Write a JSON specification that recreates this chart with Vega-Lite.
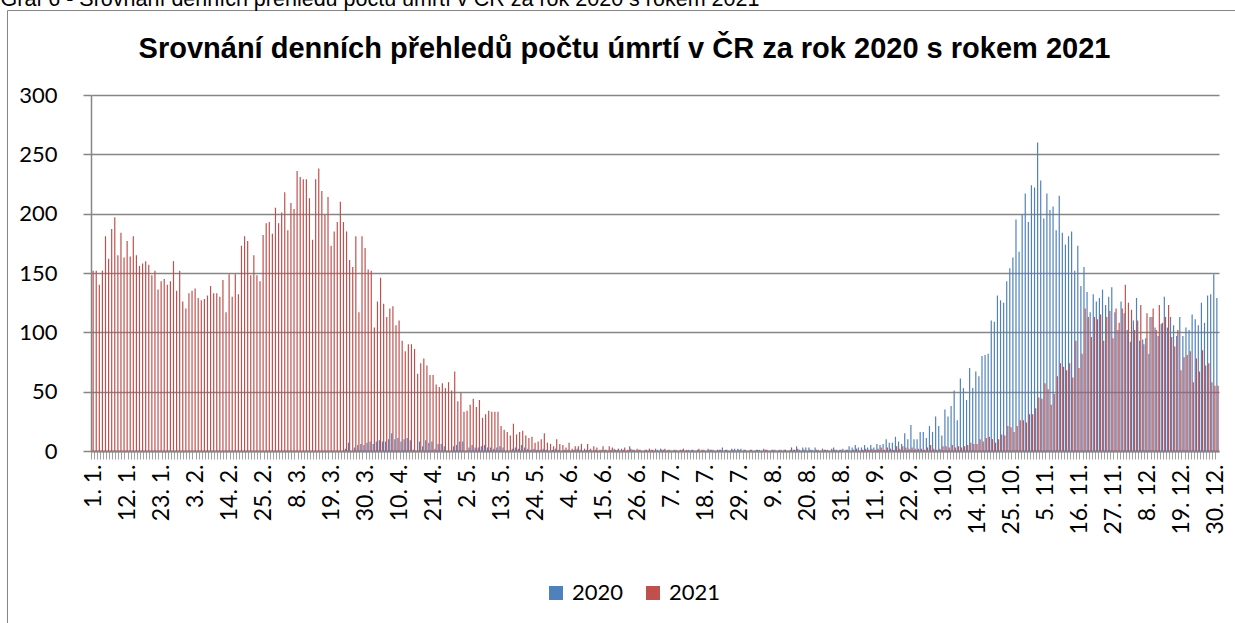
{
"$schema": "https://vega.github.io/schema/vega-lite/v6.json",
"width": 1228, "height": 613,
"autosize": "none",
"padding": {"left": 7, "top": 10, "right": 0, "bottom": 0},
"background": "white",
"data": {"values": [
{"den":"1. 1.","2020":0,"2021":152},{"den":"2. 1.","2020":0,"2021":152},{"den":"3. 1.","2020":0,"2021":140},{"den":"4. 1.","2020":0,"2021":152},{"den":"5. 1.","2020":0,"2021":181},{"den":"6. 1.","2020":0,"2021":162},{"den":"7. 1.","2020":0,"2021":187},{"den":"8. 1.","2020":0,"2021":197},{"den":"9. 1.","2020":0,"2021":165},{"den":"10. 1.","2020":0,"2021":184},{"den":"11. 1.","2020":0,"2021":163},{"den":"12. 1.","2020":0,"2021":177},{"den":"13. 1.","2020":0,"2021":164},{"den":"14. 1.","2020":0,"2021":181},{"den":"15. 1.","2020":0,"2021":165},{"den":"16. 1.","2020":0,"2021":156},{"den":"17. 1.","2020":0,"2021":158},{"den":"18. 1.","2020":0,"2021":160},{"den":"19. 1.","2020":0,"2021":157},{"den":"20. 1.","2020":0,"2021":148},{"den":"21. 1.","2020":0,"2021":152},{"den":"22. 1.","2020":0,"2021":136},{"den":"23. 1.","2020":0,"2021":143},{"den":"24. 1.","2020":0,"2021":145},{"den":"25. 1.","2020":0,"2021":140},{"den":"26. 1.","2020":0,"2021":143},{"den":"27. 1.","2020":0,"2021":160},{"den":"28. 1.","2020":0,"2021":135},{"den":"29. 1.","2020":0,"2021":152},{"den":"30. 1.","2020":0,"2021":126},{"den":"31. 1.","2020":0,"2021":120},
{"den":"1. 2.","2020":0,"2021":133},{"den":"2. 2.","2020":0,"2021":135},{"den":"3. 2.","2020":0,"2021":137},{"den":"4. 2.","2020":0,"2021":129},{"den":"5. 2.","2020":0,"2021":127},{"den":"6. 2.","2020":0,"2021":128},{"den":"7. 2.","2020":0,"2021":131},{"den":"8. 2.","2020":0,"2021":139},{"den":"9. 2.","2020":0,"2021":133},{"den":"10. 2.","2020":0,"2021":133},{"den":"11. 2.","2020":0,"2021":130},{"den":"12. 2.","2020":0,"2021":144},{"den":"13. 2.","2020":0,"2021":117},{"den":"14. 2.","2020":0,"2021":149},{"den":"15. 2.","2020":0,"2021":130},{"den":"16. 2.","2020":0,"2021":149},{"den":"17. 2.","2020":0,"2021":132},{"den":"18. 2.","2020":0,"2021":173},{"den":"19. 2.","2020":0,"2021":181},{"den":"20. 2.","2020":0,"2021":177},{"den":"21. 2.","2020":0,"2021":148},{"den":"22. 2.","2020":0,"2021":165},{"den":"23. 2.","2020":0,"2021":148},{"den":"24. 2.","2020":0,"2021":143},{"den":"25. 2.","2020":0,"2021":182},{"den":"26. 2.","2020":0,"2021":192},{"den":"27. 2.","2020":0,"2021":193},{"den":"28. 2.","2020":0,"2021":183},
{"den":"1. 3.","2020":0,"2021":205},{"den":"2. 3.","2020":0,"2021":192},{"den":"3. 3.","2020":0,"2021":201},{"den":"4. 3.","2020":0,"2021":218},{"den":"5. 3.","2020":0,"2021":186},{"den":"6. 3.","2020":0,"2021":209},{"den":"7. 3.","2020":0,"2021":204},{"den":"8. 3.","2020":0,"2021":236},{"den":"9. 3.","2020":0,"2021":231},{"den":"10. 3.","2020":0,"2021":229},{"den":"11. 3.","2020":0,"2021":229},{"den":"12. 3.","2020":0,"2021":213},{"den":"13. 3.","2020":0,"2021":178},{"den":"14. 3.","2020":0,"2021":229},{"den":"15. 3.","2020":0,"2021":238},{"den":"16. 3.","2020":0,"2021":219},{"den":"17. 3.","2020":0,"2021":199},{"den":"18. 3.","2020":0,"2021":214},{"den":"19. 3.","2020":0,"2021":173},{"den":"20. 3.","2020":0,"2021":185},{"den":"21. 3.","2020":0,"2021":193},{"den":"22. 3.","2020":0,"2021":210},{"den":"23. 3.","2020":0,"2021":193},{"den":"24. 3.","2020":2,"2021":185},{"den":"25. 3.","2020":7,"2021":161},{"den":"26. 3.","2020":0,"2021":155},{"den":"27. 3.","2020":3,"2021":181},{"den":"28. 3.","2020":5,"2021":117},{"den":"29. 3.","2020":6,"2021":181},{"den":"30. 3.","2020":5,"2021":171},{"den":"31. 3.","2020":7,"2021":153},
{"den":"1. 4.","2020":8,"2021":152},{"den":"2. 4.","2020":6,"2021":104},{"den":"3. 4.","2020":8,"2021":126},{"den":"4. 4.","2020":9,"2021":146},{"den":"5. 4.","2020":8,"2021":124},{"den":"6. 4.","2020":8,"2021":113},{"den":"7. 4.","2020":10,"2021":120},{"den":"8. 4.","2020":15,"2021":122},{"den":"9. 4.","2020":10,"2021":106},{"den":"10. 4.","2020":11,"2021":110},{"den":"11. 4.","2020":8,"2021":93},{"den":"12. 4.","2020":10,"2021":84},{"den":"13. 4.","2020":11,"2021":90},{"den":"14. 4.","2020":9,"2021":90},{"den":"15. 4.","2020":1,"2021":86},{"den":"16. 4.","2020":0,"2021":65},{"den":"17. 4.","2020":8,"2021":74},{"den":"18. 4.","2020":4,"2021":78},{"den":"19. 4.","2020":9,"2021":72},{"den":"20. 4.","2020":7,"2021":64},{"den":"21. 4.","2020":8,"2021":64},{"den":"22. 4.","2020":2,"2021":56},{"den":"23. 4.","2020":6,"2021":54},{"den":"24. 4.","2020":6,"2021":57},{"den":"25. 4.","2020":4,"2021":53},{"den":"26. 4.","2020":0,"2021":58},{"den":"27. 4.","2020":0,"2021":51},{"den":"28. 4.","2020":4,"2021":67},{"den":"29. 4.","2020":5,"2021":42},{"den":"30. 4.","2020":8,"2021":49},
{"den":"1. 5.","2020":8,"2021":33},{"den":"2. 5.","2020":0,"2021":34},{"den":"3. 5.","2020":3,"2021":39},{"den":"4. 5.","2020":5,"2021":44},{"den":"5. 5.","2020":3,"2021":37},{"den":"6. 5.","2020":3,"2021":43},{"den":"7. 5.","2020":4,"2021":28},{"den":"8. 5.","2020":5,"2021":31},{"den":"9. 5.","2020":3,"2021":34},{"den":"10. 5.","2020":3,"2021":33},{"den":"11. 5.","2020":2,"2021":33},{"den":"12. 5.","2020":3,"2021":33},{"den":"13. 5.","2020":4,"2021":21},{"den":"14. 5.","2020":3,"2021":18},{"den":"15. 5.","2020":0,"2021":16},{"den":"16. 5.","2020":0,"2021":13},{"den":"17. 5.","2020":2,"2021":23},{"den":"18. 5.","2020":3,"2021":14},{"den":"19. 5.","2020":2,"2021":16},{"den":"20. 5.","2020":5,"2021":17},{"den":"21. 5.","2020":3,"2021":13},{"den":"22. 5.","2020":2,"2021":11},{"den":"23. 5.","2020":1,"2021":12},{"den":"24. 5.","2020":2,"2021":7},{"den":"25. 5.","2020":1,"2021":8},{"den":"26. 5.","2020":1,"2021":10},{"den":"27. 5.","2020":2,"2021":15},{"den":"28. 5.","2020":1,"2021":7},{"den":"29. 5.","2020":0,"2021":6},{"den":"30. 5.","2020":1,"2021":4},{"den":"31. 5.","2020":2,"2021":10},
{"den":"1. 6.","2020":1,"2021":6},{"den":"2. 6.","2020":0,"2021":5},{"den":"3. 6.","2020":1,"2021":3},{"den":"4. 6.","2020":1,"2021":7},{"den":"5. 6.","2020":0,"2021":2},{"den":"6. 6.","2020":1,"2021":4},{"den":"7. 6.","2020":2,"2021":4},{"den":"8. 6.","2020":1,"2021":6},{"den":"9. 6.","2020":0,"2021":2},{"den":"10. 6.","2020":1,"2021":6},{"den":"11. 6.","2020":1,"2021":2},{"den":"12. 6.","2020":0,"2021":4},{"den":"13. 6.","2020":1,"2021":3},{"den":"14. 6.","2020":0,"2021":1},{"den":"15. 6.","2020":1,"2021":4},{"den":"16. 6.","2020":1,"2021":1},{"den":"17. 6.","2020":0,"2021":4},{"den":"18. 6.","2020":1,"2021":3},{"den":"19. 6.","2020":2,"2021":1},{"den":"20. 6.","2020":1,"2021":2},{"den":"21. 6.","2020":0,"2021":2},{"den":"22. 6.","2020":1,"2021":3},{"den":"23. 6.","2020":0,"2021":1},{"den":"24. 6.","2020":4,"2021":2},{"den":"25. 6.","2020":1,"2021":1},{"den":"26. 6.","2020":0,"2021":2},{"den":"27. 6.","2020":1,"2021":1},{"den":"28. 6.","2020":0,"2021":0},{"den":"29. 6.","2020":1,"2021":1},{"den":"30. 6.","2020":0,"2021":2},
{"den":"1. 7.","2020":1,"2021":1},{"den":"2. 7.","2020":0,"2021":2},{"den":"3. 7.","2020":1,"2021":0},{"den":"4. 7.","2020":2,"2021":1},{"den":"5. 7.","2020":1,"2021":2},{"den":"6. 7.","2020":0,"2021":1},{"den":"7. 7.","2020":1,"2021":0},{"den":"8. 7.","2020":0,"2021":1},{"den":"9. 7.","2020":1,"2021":0},{"den":"10. 7.","2020":0,"2021":1},{"den":"11. 7.","2020":1,"2021":2},{"den":"12. 7.","2020":0,"2021":1},{"den":"13. 7.","2020":1,"2021":0},{"den":"14. 7.","2020":1,"2021":1},{"den":"15. 7.","2020":0,"2021":0},{"den":"16. 7.","2020":1,"2021":2},{"den":"17. 7.","2020":0,"2021":1},{"den":"18. 7.","2020":1,"2021":0},{"den":"19. 7.","2020":0,"2021":2},{"den":"20. 7.","2020":1,"2021":1},{"den":"21. 7.","2020":1,"2021":0},{"den":"22. 7.","2020":0,"2021":1},{"den":"23. 7.","2020":1,"2021":1},{"den":"24. 7.","2020":3,"2021":0},{"den":"25. 7.","2020":1,"2021":1},{"den":"26. 7.","2020":0,"2021":0},{"den":"27. 7.","2020":2,"2021":1},{"den":"28. 7.","2020":2,"2021":0},{"den":"29. 7.","2020":2,"2021":1},{"den":"30. 7.","2020":2,"2021":0},{"den":"31. 7.","2020":1,"2021":1},
{"den":"1. 8.","2020":0,"2021":0},{"den":"2. 8.","2020":1,"2021":1},{"den":"3. 8.","2020":0,"2021":0},{"den":"4. 8.","2020":1,"2021":1},{"den":"5. 8.","2020":1,"2021":0},{"den":"6. 8.","2020":0,"2021":2},{"den":"7. 8.","2020":1,"2021":1},{"den":"8. 8.","2020":0,"2021":0},{"den":"9. 8.","2020":1,"2021":1},{"den":"10. 8.","2020":1,"2021":0},{"den":"11. 8.","2020":0,"2021":1},{"den":"12. 8.","2020":1,"2021":0},{"den":"13. 8.","2020":1,"2021":1},{"den":"14. 8.","2020":0,"2021":0},{"den":"15. 8.","2020":1,"2021":3},{"den":"16. 8.","2020":1,"2021":1},{"den":"17. 8.","2020":4,"2021":2},{"den":"18. 8.","2020":1,"2021":0},{"den":"19. 8.","2020":3,"2021":1},{"den":"20. 8.","2020":3,"2021":0},{"den":"21. 8.","2020":3,"2021":1},{"den":"22. 8.","2020":1,"2021":0},{"den":"23. 8.","2020":3,"2021":1},{"den":"24. 8.","2020":1,"2021":0},{"den":"25. 8.","2020":0,"2021":2},{"den":"26. 8.","2020":1,"2021":1},{"den":"27. 8.","2020":1,"2021":0},{"den":"28. 8.","2020":0,"2021":2},{"den":"29. 8.","2020":3,"2021":1},{"den":"30. 8.","2020":1,"2021":0},{"den":"31. 8.","2020":1,"2021":1},
{"den":"1. 9.","2020":2,"2021":0},{"den":"2. 9.","2020":1,"2021":1},{"den":"3. 9.","2020":4,"2021":0},{"den":"4. 9.","2020":3,"2021":1},{"den":"5. 9.","2020":5,"2021":2},{"den":"6. 9.","2020":3,"2021":0},{"den":"7. 9.","2020":3,"2021":1},{"den":"8. 9.","2020":5,"2021":2},{"den":"9. 9.","2020":3,"2021":1},{"den":"10. 9.","2020":5,"2021":2},{"den":"11. 9.","2020":3,"2021":1},{"den":"12. 9.","2020":6,"2021":2},{"den":"13. 9.","2020":5,"2021":3},{"den":"14. 9.","2020":6,"2021":1},{"den":"15. 9.","2020":10,"2021":3},{"den":"16. 9.","2020":7,"2021":2},{"den":"17. 9.","2020":7,"2021":1},{"den":"18. 9.","2020":12,"2021":4},{"den":"19. 9.","2020":8,"2021":2},{"den":"20. 9.","2020":6,"2021":4},{"den":"21. 9.","2020":15,"2021":3},{"den":"22. 9.","2020":10,"2021":2},{"den":"23. 9.","2020":22,"2021":3},{"den":"24. 9.","2020":10,"2021":2},{"den":"25. 9.","2020":10,"2021":2},{"den":"26. 9.","2020":16,"2021":2},{"den":"27. 9.","2020":16,"2021":1},{"den":"28. 9.","2020":11,"2021":3},{"den":"29. 9.","2020":21,"2021":5},{"den":"30. 9.","2020":16,"2021":2},
{"den":"1. 10.","2020":29,"2021":1},{"den":"2. 10.","2020":21,"2021":2},{"den":"3. 10.","2020":13,"2021":4},{"den":"4. 10.","2020":35,"2021":4},{"den":"5. 10.","2020":29,"2021":3},{"den":"6. 10.","2020":38,"2021":5},{"den":"7. 10.","2020":51,"2021":3},{"den":"8. 10.","2020":26,"2021":4},{"den":"9. 10.","2020":61,"2021":3},{"den":"10. 10.","2020":53,"2021":4},{"den":"11. 10.","2020":43,"2021":5},{"den":"12. 10.","2020":70,"2021":7},{"den":"13. 10.","2020":53,"2021":6},{"den":"14. 10.","2020":67,"2021":6},{"den":"15. 10.","2020":63,"2021":10},{"den":"16. 10.","2020":80,"2021":8},{"den":"17. 10.","2020":81,"2021":11},{"den":"18. 10.","2020":82,"2021":12},{"den":"19. 10.","2020":110,"2021":10},{"den":"20. 10.","2020":109,"2021":7},{"den":"21. 10.","2020":131,"2021":10},{"den":"22. 10.","2020":127,"2021":14},{"den":"23. 10.","2020":125,"2021":13},{"den":"24. 10.","2020":143,"2021":21},{"den":"25. 10.","2020":154,"2021":20},{"den":"26. 10.","2020":163,"2021":16},{"den":"27. 10.","2020":195,"2021":21},{"den":"28. 10.","2020":168,"2021":26},{"den":"29. 10.","2020":199,"2021":26},{"den":"30. 10.","2020":217,"2021":24},{"den":"31. 10.","2020":193,"2021":31},
{"den":"1. 11.","2020":224,"2021":31},{"den":"2. 11.","2020":222,"2021":36},{"den":"3. 11.","2020":260,"2021":45},{"den":"4. 11.","2020":228,"2021":44},{"den":"5. 11.","2020":196,"2021":57},{"den":"6. 11.","2020":217,"2021":52},{"den":"7. 11.","2020":203,"2021":39},{"den":"8. 11.","2020":206,"2021":48},{"den":"9. 11.","2020":186,"2021":63},{"den":"10. 11.","2020":215,"2021":74},{"den":"11. 11.","2020":184,"2021":71},{"den":"12. 11.","2020":174,"2021":68},{"den":"13. 11.","2020":181,"2021":74},{"den":"14. 11.","2020":185,"2021":62},{"den":"15. 11.","2020":152,"2021":93},{"den":"16. 11.","2020":173,"2021":70},{"den":"17. 11.","2020":139,"2021":82},{"den":"18. 11.","2020":155,"2021":120},{"den":"19. 11.","2020":134,"2021":113},{"den":"20. 11.","2020":117,"2021":96},{"den":"21. 11.","2020":132,"2021":113},{"den":"22. 11.","2020":126,"2021":111},{"den":"23. 11.","2020":129,"2021":115},{"den":"24. 11.","2020":136,"2021":93},{"den":"25. 11.","2020":123,"2021":113},{"den":"26. 11.","2020":130,"2021":118},{"den":"27. 11.","2020":138,"2021":95},{"den":"28. 11.","2020":117,"2021":120},{"den":"29. 11.","2020":102,"2021":108},{"den":"30. 11.","2020":126,"2021":120},
{"den":"1. 12.","2020":116,"2021":140},{"den":"2. 12.","2020":102,"2021":125},{"den":"3. 12.","2020":92,"2021":119},{"den":"4. 12.","2020":110,"2021":102},{"den":"5. 12.","2020":129,"2021":110},{"den":"6. 12.","2020":93,"2021":123},{"den":"7. 12.","2020":94,"2021":90},{"den":"8. 12.","2020":95,"2021":116},{"den":"9. 12.","2020":82,"2021":113},{"den":"10. 12.","2020":113,"2021":120},{"den":"11. 12.","2020":104,"2021":102},{"den":"12. 12.","2020":97,"2021":123},{"den":"13. 12.","2020":107,"2021":108},{"den":"14. 12.","2020":130,"2021":113},{"den":"15. 12.","2020":104,"2021":123},{"den":"16. 12.","2020":113,"2021":96},{"den":"17. 12.","2020":106,"2021":88},{"den":"18. 12.","2020":97,"2021":102},{"den":"19. 12.","2020":113,"2021":68},{"den":"20. 12.","2020":97,"2021":79},{"den":"21. 12.","2020":104,"2021":81},{"den":"22. 12.","2020":102,"2021":84},{"den":"23. 12.","2020":115,"2021":58},{"den":"24. 12.","2020":111,"2021":78},{"den":"25. 12.","2020":106,"2021":67},{"den":"26. 12.","2020":125,"2021":85},{"den":"27. 12.","2020":108,"2021":72},{"den":"28. 12.","2020":131,"2021":74},{"den":"29. 12.","2020":132,"2021":58},{"den":"30. 12.","2020":149,"2021":55},{"den":"31. 12.","2020":129,"2021":55}
]},
"transform": [{"fold": ["2020", "2021"], "as": ["rok", "pocet"]}],
"mark": {"type": "bar"},
"encoding": {
  "x": {"field": "den", "type": "nominal", "sort": null,
    "scale": {"paddingInner": 0, "paddingOuter": 0, "range": [84, 1212]},
    "axis": {"offset": -172, "bandPosition": 0, "labelAngle": -90, "labelOverlap": false, "labelBound": false, "labelFlush": false,
      "labelExpr": "indexof(['1. 1.','12. 1.','23. 1.','3. 2.','14. 2.','25. 2.','8. 3.','19. 3.','30. 3.','10. 4.','21. 4.','2. 5.','13. 5.','24. 5.','4. 6.','15. 6.','26. 6.','7. 7.','18. 7.','29. 7.','9. 8.','20. 8.','31. 8.','11. 9.','22. 9.','3. 10.','14. 10.','25. 10.','5. 11.','16. 11.','27. 11.','8. 12.','19. 12.','30. 12.'], datum.value) >= 0 ? datum.value : ''",
      "labelFont": "Lato", "labelFontSize": 23, "labelColor": "black", "labelPadding": 5, "labelOffset": 1.5,
      "tickSize": 8, "tickColor": "#a0a0a0", "tickWidth": 1, "domainColor": "#868686", "domainWidth": 2,
      "title": "Srovnání denních přehledů počtu úmrtí v ČR za rok 2020 s rokem 2021",
      "titleAngle": 0, "titleAlign": "center", "titleBaseline": "alphabetic", "titleX": 617, "titleY": -394,
      "titleFont": "Liberation Sans", "titleFontSize": 29, "titleFontWeight": "bold", "titleColor": "black"}},
  "xOffset": {"field": "rok", "type": "nominal", "scale": {"paddingInner": 0, "paddingOuter": 0.3}},
  "y": {"field": "pocet", "type": "quantitative", "scale": {"domain": [0, 300], "nice": false, "range": [441, 85]},
    "axis": {"offset": -84, "values": [0, 50, 100, 150, 200, 250, 300], "grid": true, "gridColor": "#868686", "gridWidth": 1.5,
      "domainColor": "#868686", "domainWidth": 1.5, "tickColor": "#868686", "tickSize": 8, "tickWidth": 1.5,
      "labelFont": "Lato", "labelFontSize": 22, "labelColor": "black", "labelPadding": 26,
      "title": "Graf 6 - Srovnání denních přehledů počtu úmrtí v ČR za rok 2020 s rokem 2021",
      "titleAngle": 0, "titleAlign": "left", "titleBaseline": "alphabetic", "titleX": -91, "titleY": -4.5,
      "titleFont": "Liberation Sans", "titleFontSize": 21.5, "titleFontWeight": "normal", "titleColor": "black"}},
  "color": {"field": "rok", "type": "nominal",
    "scale": {"domain": ["2020", "2021"], "range": ["#4F81BD", "#C0504D"]},
    "legend": {"orient": "none", "legendX": 538, "legendY": 572, "direction": "horizontal", "title": null, "padding": 0,
      "symbolType": "square", "symbolSize": 196, "symbolStrokeWidth": 0, "labelFont": "Lato", "labelFontSize": 22,
      "labelColor": "black", "labelOffset": 5, "columnPadding": 18}}
},
"config": {"view": {"stroke": "#868686", "strokeWidth": 1}}
}
